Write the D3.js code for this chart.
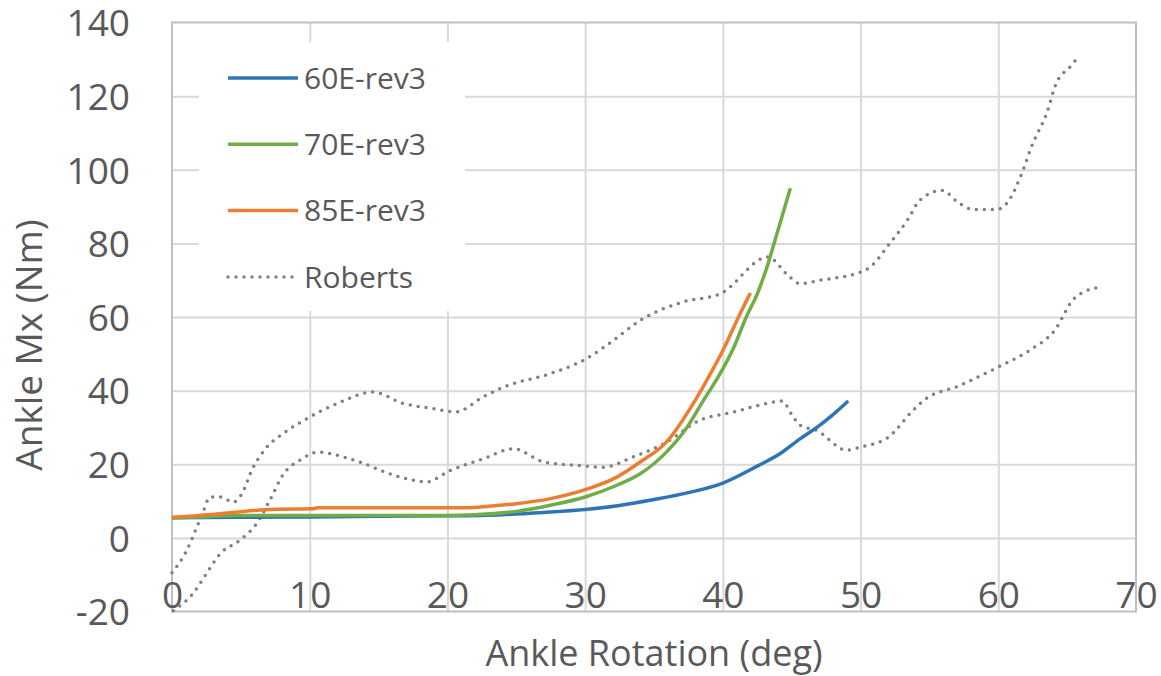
<!DOCTYPE html>
<html>
<head>
<meta charset="utf-8">
<script src="https://cdn.jsdelivr.net/npm/d3@7"></script>
<style>
  body { margin: 0; background: #fff; }
  svg { display: block; font-family: "Open Sans", sans-serif; }
  .tick text { fill: #595959; font-family: "Open Sans", sans-serif; }
</style>
</head>
<body>
<div id="chart"></div>
<script>
// tick values
var xTicks = [0, 10, 20, 30, 40, 50, 60, 70];
var yTicks = [-20, 0, 20, 40, 60, 80, 100, 120, 140];

// series: [ankle rotation (deg), ankle Mx (Nm)]
var rev60 = [[0,5.5],[5,5.6],[10,5.7],[15,5.9],[20,6.0],[24,6.3],[27,6.9],[30,7.7],[32.5,8.8],[35,10.4],[37.5,12.3],[40,14.9],[42.5,19.5],[44.2,23.0],[45.6,26.9],[47,30.5],[48,33.5],[49.1,37.2]];
var rev70 = [[0,5.5],[2,5.7],[5,6.1],[10,6.1],[20,6.1],[22,6.3],[25,7.2],[27.4,8.8],[30,11.1],[32.3,14.3],[34,17.4],[35.9,23.3],[37.3,29.5],[38.6,37.4],[39.8,44.6],[40.8,51.8],[41.7,60],[42.5,66.3],[43.2,73.5],[43.8,81],[44.9,95]];
var rev85 = [[0,5.6],[2,6.1],[4.4,6.9],[6.2,7.5],[7.6,7.8],[10.2,7.9],[10.6,8.2],[21.4,8.2],[23,8.6],[25,9.3],[27.4,10.6],[30,13.1],[32.3,16.5],[34,20.6],[35.9,26.0],[38.0,37.4],[39.1,44.6],[40.0,50.9],[41.25,60.9],[42.0,66.5]];
var robertsUpper = [[0,-9.5],[1.07,-3.4],[1.8,2.9],[2.3,7.5],[2.76,11.1],[3.5,11.1],[4.45,9.7],[5.0,11.5],[5.9,19.2],[6.9,24.7],[8.1,28.4],[9.8,32.4],[12.0,36.5],[14.6,39.6],[16.8,36.5],[19.0,35.1],[20.6,34.2],[22.6,38.3],[24.1,41.0],[27.45,44.6],[30,48.5],[32,53.5],[34,59.1],[37.1,64.1],[39.8,66.3],[43.3,76.3],[44.6,71.8],[45.6,69.1],[47.1,70.0],[50.0,72.2],[50.7,73.6],[52.1,79.9],[53.4,86.3],[54.3,91.7],[55.9,94.4],[57.2,90.8],[58.2,89.2],[59.9,89.2],[60.6,90.8],[61.6,98.0],[62.5,107.1],[63.5,115.2],[64.2,123.4],[65.2,127.9],[65.8,130.6]];
var robertsLower = [[0.1,-19.8],[1.5,-15.2],[2.5,-9.7],[3.5,-4.3],[4.9,-0.7],[6.15,3.9],[7.1,10.2],[8.1,17.4],[9.3,21.1],[10.6,23.3],[12.9,21.5],[16.6,16.5],[18.5,15.2],[20.2,18.3],[22.6,21.5],[24.8,24.2],[27.0,20.6],[29.4,19.7],[31.3,19.2],[33.5,22.0],[35.9,26.0],[38.3,31.9],[40.8,34.2],[43.2,36.5],[44.3,37.2],[45.0,33.5],[45.6,30.6],[46.8,29.2],[49.0,23.8],[50.0,24.7],[51.9,27.0],[53.8,34.6],[54.6,37.4],[57.2,41.4],[60.1,46.6],[62.3,51.0],[64.1,56.4],[65.5,65.0],[67.2,68.0]];

var labels = ["60E-rev3", "70E-rev3", "85E-rev3", "Roberts"];
var colors = ["#2e75b6", "#70ad47", "#ed7d31", "#7f7f7f"];

var W = 1161, H = 676;
var plot = { left: 172, right: 1136, top: 22.5, bottom: 611.5 };

var svg = d3.select("#chart").append("svg")
    .attr("width", W)
    .attr("height", H);

var x = d3.scaleLinear().domain([0, 70]).range([plot.left, plot.right]);
var y = d3.scaleLinear().domain([-20, 140]).range([plot.bottom, plot.top]);

// plain hyphen for negatives, like the original
var fmt = function(d) { return String(d); };

// gridlines
svg.append("g")
    .attr("transform", "translate(0," + plot.bottom + ")")
    .call(d3.axisBottom(x).tickValues(xTicks.slice(1, -1)).tickSize(-(plot.bottom - plot.top)).tickFormat(""))
    .call(function(g) { g.select(".domain").remove(); })
    .selectAll("line").attr("stroke", "#d9d9d9").attr("stroke-width", 2);

svg.append("g")
    .attr("transform", "translate(" + plot.left + ",0)")
    .call(d3.axisLeft(y).tickValues(yTicks.slice(1, -1)).tickSize(-(plot.right - plot.left)).tickFormat(""))
    .call(function(g) { g.select(".domain").remove(); })
    .selectAll("line").attr("stroke", "#d9d9d9").attr("stroke-width", 2);

// plot border
svg.append("rect")
    .attr("x", plot.left)
    .attr("y", plot.top)
    .attr("width", plot.right - plot.left)
    .attr("height", plot.bottom - plot.top)
    .attr("fill", "none")
    .attr("stroke", "#bfbfbf")
    .attr("stroke-width", 2);

// legend background covers the gridlines
var legendBox = { x: 199, y: 42, w: 266, h: 269 };
svg.append("rect")
    .attr("x", legendBox.x)
    .attr("y", legendBox.y)
    .attr("width", legendBox.w)
    .attr("height", legendBox.h)
    .attr("fill", "#fff");

// y axis labels
var yAxis = svg.append("g")
    .attr("transform", "translate(" + plot.left + ",0)")
    .call(d3.axisLeft(y).tickValues(yTicks).tickSize(0).tickPadding(42).tickFormat(fmt));
yAxis.attr("font-family", null);
yAxis.select(".domain").remove();
yAxis.selectAll("text")
    .style("font-size", "37px")
    .attr("dy", "0.36em");

// x axis labels (sit just inside the bottom edge)
var xAxis = svg.append("g")
    .attr("transform", "translate(0," + plot.bottom + ")")
    .call(d3.axisBottom(x).tickValues(xTicks).tickSize(0).tickFormat(fmt));
xAxis.attr("font-family", null);
xAxis.select(".domain").remove();
xAxis.selectAll("text")
    .style("font-size", "37px")
    .attr("y", -4)
    .attr("dy", "0");

// axis titles
svg.append("text")
    .attr("x", (plot.left + plot.right) / 2)
    .attr("y", 666)
    .attr("text-anchor", "middle")
    .style("font-size", "36px")
    .style("fill", "#595959")
    .text("Ankle Rotation (deg)");

svg.append("text")
    .attr("transform", "translate(42,345) rotate(-90)")
    .attr("text-anchor", "middle")
    .style("font-size", "37px")
    .style("fill", "#595959")
    .text("Ankle Mx (Nm)");

var line = d3.line()
    .curve(d3.curveMonotoneX)
    .x(function(d) { return x(d[0]); })
    .y(function(d) { return y(d[1]); });

// Roberts corridor (dotted)
[robertsUpper, robertsLower].forEach(function(s) {
    svg.append("path")
        .attr("d", line(s))
        .attr("fill", "none")
        .attr("stroke", colors[3])
        .attr("stroke-width", 3.5)
        .attr("stroke-linecap", "round")
        .attr("stroke-dasharray", "0 8");
});

[rev60, rev70, rev85].forEach(function(s, i) {
    svg.append("path")
        .attr("d", line(s))
        .attr("fill", "none")
        .attr("stroke", colors[i])
        .attr("stroke-width", 3.5)
        .attr("stroke-linejoin", "round");
});

// legend
var legend = svg.selectAll(".legend")
    .data(labels)
    .enter().append("g")
    .attr("class", "legend")
    .attr("transform", function(d, i) { return "translate(228," + (78 + i * 66.3) + ")"; });

legend.append("line")
    .attr("x1", 0)
    .attr("x2", function(d, i) { return i === 3 ? 65 : 70; })
    .attr("stroke", function(d, i) { return colors[i]; })
    .attr("stroke-width", 3.5)
    .attr("stroke-linecap", function(d, i) { return i === 3 ? "round" : "butt"; })
    .attr("stroke-dasharray", function(d, i) { return i === 3 ? "0 8" : null; });

legend.append("text")
    .attr("x", 76)
    .attr("dy", "0.36em")
    .style("font-size", "30px")
    .style("fill", "#595959")
    .text(function(d) { return d; });
</script>
</body>
</html>
